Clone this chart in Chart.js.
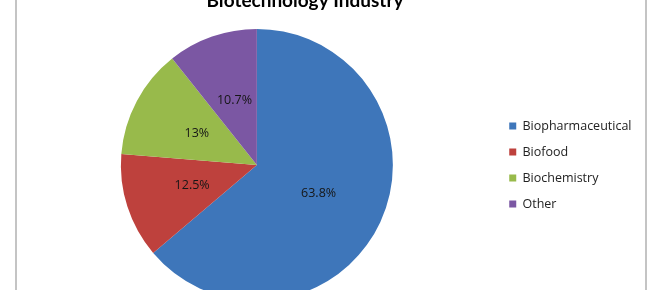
<!DOCTYPE html>
<html>
<head>
<meta charset="utf-8">
<script src="https://cdn.jsdelivr.net/npm/chart.js@4.4.1/dist/chart.umd.min.js"></script>
<style>
  html, body { margin: 0; padding: 0; background: #fff; overflow: hidden; width: 662px; height: 290px; }
  #frame {
    position: absolute; left: 15px; top: -22px;
    width: 628px; height: 330px;
    border: 2px solid #c4c4c4;
    background: #fff;
  }
</style>
</head>
<body>
<div id="frame"><canvas id="pie-biotech" width="628" height="330"></canvas></div>
<script>
  // datos del grafico
  const categorias = ['Biopharmaceutical', 'Biofood', 'Biochemistry', 'Other'];
  const porcentajes = [63.8, 12.5, 13, 10.7];
  const colores = ['#3E76BA', '#BE413D', '#98BA4B', '#7B57A3'];
  const titulo = 'Biotechnology Industry';

  // etiquetas de porcentaje dentro de cada sector
  const etiquetasPlugin = {
    id: 'etiquetas',
    afterLayout(chart) {
      // el titulo del original no esta centrado en todo el lienzo
      const t = chart.titleBlock;
      const w = t.right - t.left;
      t.left = 288 - w / 2;
      t.right = 288 + w / 2;
    },
    afterDatasetsDraw(chart) {
      const c = chart.ctx;
      const meta = chart.getDatasetMeta(0);
      c.save();
      c.font = '12.5px "Open Sans"';
      c.fillStyle = '#161616';
      c.textAlign = 'center';
      c.textBaseline = 'middle';
      meta.data.forEach((arc, i) => {
        const p = arc.tooltipPosition();
        c.fillText(porcentajes[i] + '%', p.x, p.y);
      });
      c.restore();
    }
  };

  const ctx = document.getElementById('pie-biotech').getContext('2d');

  new Chart(ctx, {
    type: 'pie',
    data: {
      labels: categorias,
      datasets: [{
        data: porcentajes,
        backgroundColor: colores,
        borderWidth: 0,
        hoverOffset: 0,
        offset: 0
      }]
    },
    options: {
      responsive: false,
      animation: false,
      events: [],
      layout: { padding: { left: 1, right: 3.5, top: 0, bottom: 9 } },
      plugins: {
        title: {
          display: true,
          text: titulo,
          color: '#000',
          font: { family: 'Lato', size: 19, weight: 'bold' },
          padding: { top: 9, bottom: 17.2 }
        },
        legend: {
          position: 'right',
          fullSize: false,
          labels: {
            color: '#222',
            boxWidth: 7,
            boxHeight: 7,
            padding: 13.5,
            font: { family: 'Open Sans', size: 12.5 }
          }
        },
        tooltip: { enabled: false }
      }
    },
    plugins: [etiquetasPlugin]
  });
</script>
</body>
</html>
